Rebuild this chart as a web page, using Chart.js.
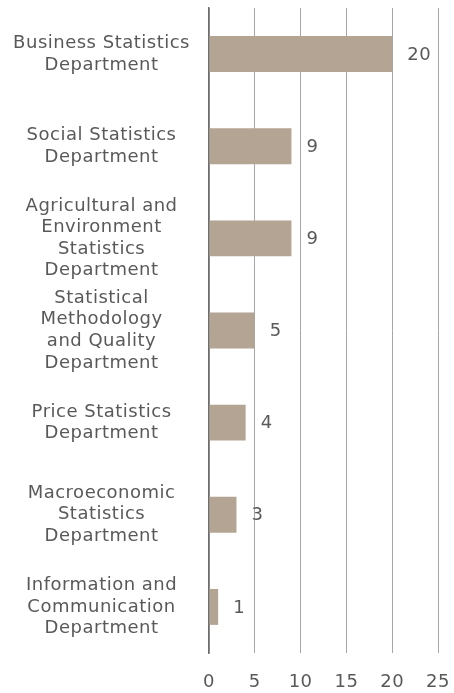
<!DOCTYPE html>
<html>
<head>
<meta charset="utf-8">
<script src="https://cdn.jsdelivr.net/npm/chart.js@4"></script>
<style>
  html, body { margin: 0; padding: 0; background: #fff; }
  #wrap { width: 454px; height: 693px; position: relative; }
</style>
</head>
<body>
<div id="wrap"><canvas id="chart"></canvas></div>
<script>
// departments, top to bottom
const departments = [
  ['Business Statistics', 'Department'],
  ['Social Statistics', 'Department'],
  ['Agricultural and', 'Environment', 'Statistics', 'Department'],
  ['Statistical', 'Methodology', 'and Quality', 'Department'],
  ['Price Statistics', 'Department'],
  ['Macroeconomic', 'Statistics', 'Department'],
  ['Information and', 'Communication', 'Department']
];
const counts = [20, 9, 9, 5, 4, 3, 1];
const xTicks = [0, 5, 10, 15, 20, 25];

const FONT = "'DejaVu Sans', Verdana, sans-serif";
const TEXT = '#595959';
const SIZE = 18;

// slightly wider text, closer to Verdana
const spacing = {
  id: 'spacing',
  beforeInit(chart) { chart.ctx.letterSpacing = '0.5px'; },
  beforeLayout(chart) { chart.ctx.letterSpacing = '0.5px'; },
  beforeDraw(chart) { chart.ctx.letterSpacing = '0.5px'; }
};

// value labels to the right of each bar
const valueLabels = {
  id: 'valueLabels',
  afterDatasetsDraw(chart) {
    const ctx = chart.ctx;
    const meta = chart.getDatasetMeta(0);
    ctx.save();
    ctx.font = SIZE + 'px ' + FONT;
    ctx.fillStyle = TEXT;
    ctx.textAlign = 'left';
    ctx.textBaseline = 'middle';
    meta.data.forEach((bar, i) => {
      ctx.fillText(String(counts[i]), bar.x + 15, bar.y + 1);
    });
    ctx.restore();
  }
};

new Chart(document.getElementById('chart'), {
  type: 'bar',
  data: {
    labels: departments,
    datasets: [{
      data: counts,
      backgroundColor: '#b4a494',
      borderWidth: 0,
      categoryPercentage: 1,
      barPercentage: 0.39
    }]
  },
  plugins: [spacing, valueLabels],
  options: {
    indexAxis: 'y',
    responsive: true,
    maintainAspectRatio: false,
    animation: false,
    layout: { padding: { top: 8, right: 4, bottom: 0, left: 0 } },
    plugins: { legend: { display: false }, tooltip: { enabled: false } },
    scales: {
      x: {
        min: 0, max: 25,
        afterBuildTicks(scale) { scale.ticks = xTicks.map(v => ({ value: v })); },
        afterFit(scale) {
          scale.height = 40;
          scale.paddingLeft = 0;
          scale.paddingRight = 16;
        },
        grid: { color: '#a6a6a6', lineWidth: 1, drawTicks: false },
        border: { display: false },
        ticks: { color: TEXT, padding: 19, font: { family: FONT, size: SIZE } }
      },
      y: {
        grid: { display: false, drawTicks: false },
        border: { display: true, color: '#6e6e6e', width: 1.5 },
        afterFit(scale) {
          scale.width = 209;
          scale.paddingTop = 0;
          scale.paddingBottom = 0;
        },
        ticks: {
          color: TEXT,
          autoSkip: false,
          crossAlign: 'center',
          padding: 19,
          font: { family: FONT, size: SIZE, lineHeight: 1.2 }
        }
      }
    }
  }
});
</script>
</body>
</html>
